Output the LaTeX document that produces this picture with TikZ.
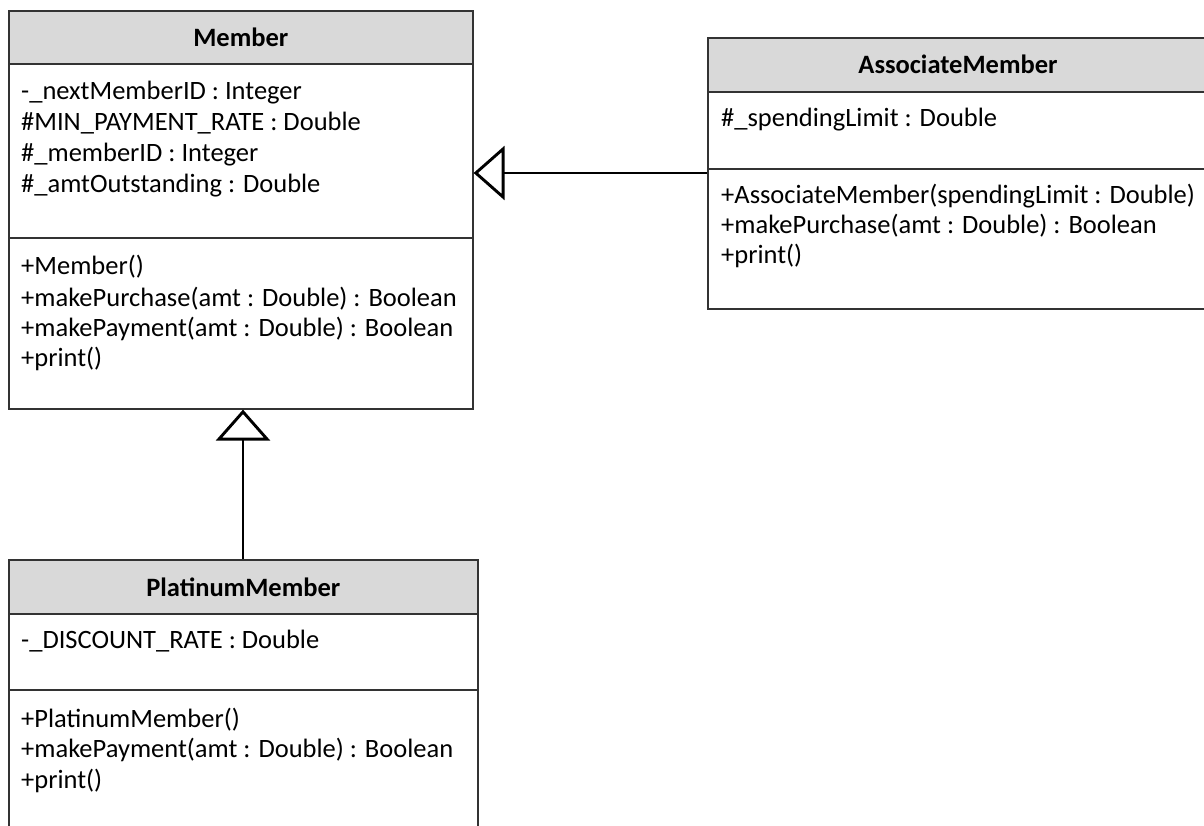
\documentclass[tikz,border=0pt]{standalone}
\usepackage{fontspec}
\setmainfont{Carlito}
\usetikzlibrary{arrows.meta}
\definecolor{hdrgray}{HTML}{D9D9D9}
\definecolor{edge}{HTML}{333333}
\tikzset{
  x=1pt, y=-1pt,
  box/.style={draw=edge, line width=1.6pt, anchor=north west, inner sep=0pt},
  hdr/.style={box, fill=hdrgray, font=\fontsize{26.5}{31}\selectfont\bfseries},
  comp/.style={box, fill=white},
  txt/.style={anchor=base west, inner sep=0pt, font=\fontsize{26.5}{31}\selectfont},
  gen/.style={line width=2.9pt, black, -{Triangle[open, length=31pt, width=54pt]}}
}
\begin{document}
\begin{tikzpicture}
\useasboundingbox (0,0) rectangle (1204,826);
% Member
\node[hdr, minimum width=464pt, minimum height=53pt] (memberH) at (8,10) {Member};
\node[comp, minimum width=464pt, minimum height=174pt] (memberA) at (8,63) {};
\node[comp, minimum width=464pt, minimum height=171pt] (memberM) at (8,237) {};
\node[txt] (ma1) at (21,100) {-\_nextMemberID : Integer};
\node[txt] (ma2) at (21,131) {\#MIN\_PAYMENT\_RATE : Double};
\node[txt] (ma3) at (21,162) {\#\_memberID : Integer};
\node[txt] (ma4) at (21,193) {\#\_amtOutstanding : Double};
\node[txt] (mm1) at (21,275) {+Member()};
\node[txt] (mm2) at (21,306) {+makePurchase(amt : Double) : Boolean};
\node[txt] (mm3) at (21,336) {+makePayment(amt : Double) : Boolean};
\node[txt] (mm4) at (21,366) {+print()};
% AssociateMember
\node[hdr, minimum width=510pt, minimum height=54pt] (assocH) at (707,37) {};
\node[hdr, anchor=center, draw=none, fill=none] (assocT) at (958,64) {AssociateMember};
\node[comp, minimum width=510pt, minimum height=77pt] (assocA) at (707,91) {};
\node[comp, minimum width=510pt, minimum height=140pt] (assocM) at (707,168) {};
\node[txt] (aa1) at (721,127) {\#\_spendingLimit : Double};
\node[txt] (am1) at (721,204) {+AssociateMember(spendingLimit : Double)};
\node[txt] (am2) at (721,234) {+makePurchase(amt : Double) : Boolean};
\node[txt] (am3) at (721,264) {+print()};
% PlatinumMember
\node[hdr, minimum width=469pt, minimum height=54pt] (platH) at (8,559) {PlatinumMember};
\node[comp, minimum width=469pt, minimum height=76pt] (platA) at (8,613) {};
\node[comp, minimum width=469pt, minimum height=160pt] (platM) at (8,689) {};
\node[txt] (pa1) at (21,648) {-\_DISCOUNT\_RATE : Double};
\node[txt] (pm1) at (21,727) {+PlatinumMember()};
\node[txt] (pm2) at (21,757) {+makePayment(amt : Double) : Boolean};
\node[txt] (pm3) at (21,788) {+print()};
% generalisations
\coordinate (aIn) at (707,173);
\draw[gen] (aIn) -- (aIn -| memberA.east);
\coordinate (pIn) at (243,559);
\draw[gen] (pIn) -- (pIn |- memberM.south);
\end{tikzpicture}
\end{document}
